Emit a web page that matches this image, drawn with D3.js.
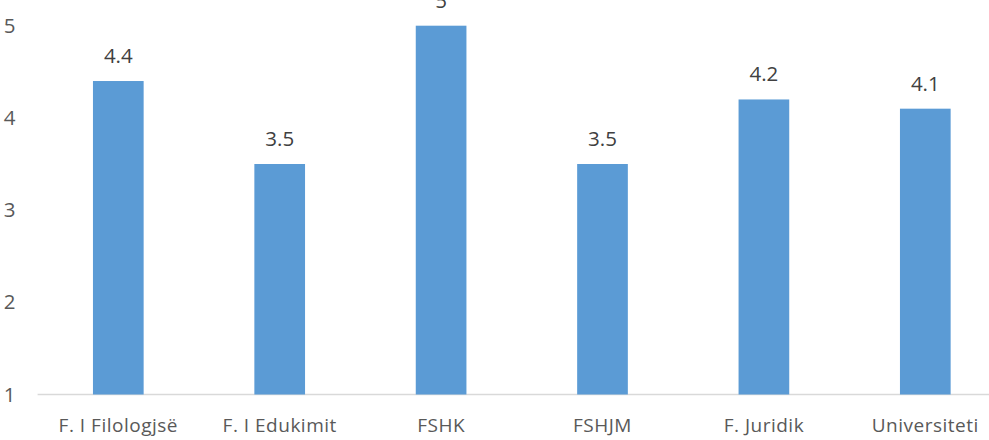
<!DOCTYPE html>
<html>
<head>
<meta charset="utf-8">
<script src="https://cdn.jsdelivr.net/npm/d3@7"></script>
<style>
html,body{margin:0;padding:0;background:#fff;overflow:hidden;}
svg{display:block;font-family:"Open Sans",sans-serif;}
</style>
</head>
<body>
<svg id="chart" width="989" height="440"></svg>
<script>
const categories = ["F. I Filologjsë", "F. I Edukimit", "FSHK", "FSHJM", "F. Juridik", "Universiteti"];
const values = [4.4, 3.5, 5, 3.5, 4.2, 4.1];
const yTicks = [1, 2, 3, 4, 5];

const svg = d3.select("#chart");
const x = d3.scaleBand().domain(categories).range([37.6, 1006]).paddingInner(0.686).paddingOuter(0.343);
const y = d3.scaleLinear().domain([1, 5]).range([394.5, 25.7]);

// baseline
svg.append("line")
  .attr("x1", 37.6).attr("x2", 989)
  .attr("y1", y(1)).attr("y2", y(1))
  .attr("stroke", "#D9D9D9").attr("stroke-width", 1.3);

// y axis labels
const yAxis = d3.axisLeft(y).tickValues(yTicks).tickSize(0).tickPadding(0).tickFormat(d3.format("d"));
const gy = svg.append("g").attr("transform", "translate(15.5,0)").call(yAxis);
gy.select(".domain").remove();
gy.selectAll("text").attr("fill", "#595959").style("font-size", "20.5px").style("font-family", "'Open Sans',sans-serif");

// bars
svg.selectAll("rect.bar").data(values).enter().append("rect")
  .attr("class", "bar")
  .attr("x", (d, i) => x(categories[i]))
  .attr("width", x.bandwidth())
  .attr("y", d => y(d))
  .attr("height", d => y(1) - y(d))
  .attr("fill", "#5B9BD5");

// value labels
svg.selectAll("text.val").data(values).enter().append("text")
  .attr("class", "val")
  .attr("x", (d, i) => x(categories[i]) + x.bandwidth() / 2)
  .attr("y", d => y(d) - 18)
  .attr("text-anchor", "middle")
  .attr("fill", "#404040")
  .style("font-size", "20.5px")
  .text(d => d);

// x axis labels
const xAxis = d3.axisBottom(x).tickSize(0).tickPadding(0);
const gx = svg.append("g").attr("transform", "translate(0,432)").call(xAxis);
gx.select(".domain").remove();
gx.selectAll("text").attr("fill", "#595959").attr("dy", "0")
  .style("font-size", "19px").style("letter-spacing", "0.5px").style("font-family", "'Open Sans',sans-serif");
</script>
</body>
</html>
